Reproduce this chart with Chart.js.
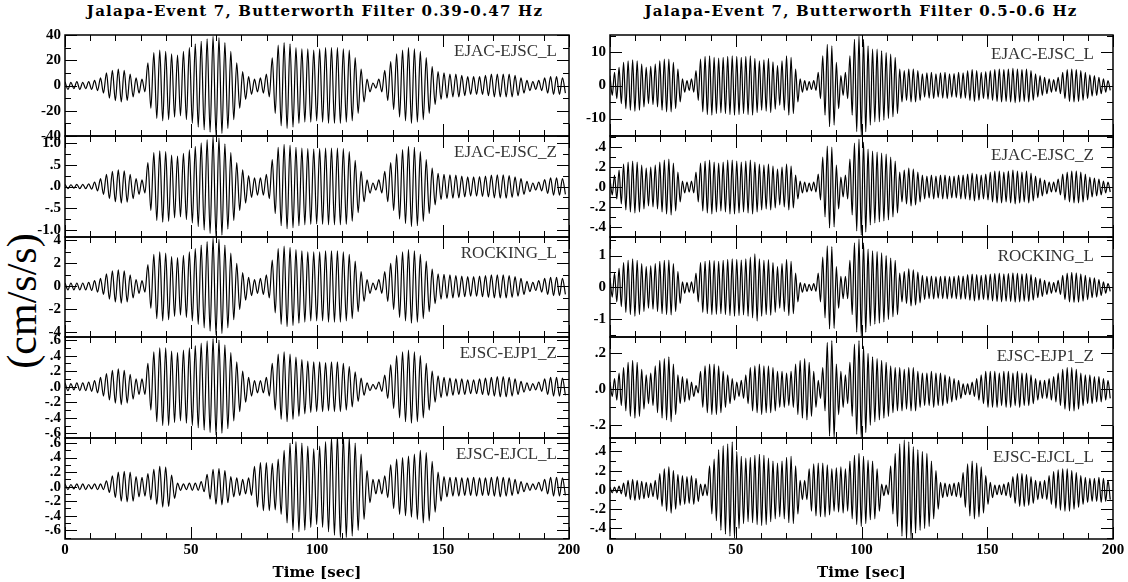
<!DOCTYPE html>
<html>
<head>
<meta charset="utf-8">
<title>Jalapa-Event 7</title>
<script src="https://cdn.jsdelivr.net/npm/chart.js@4.4.1/dist/chart.umd.min.js"></script>
<style>
  html, body { margin: 0; padding: 0; background: #fff; }
  #page { position: relative; width: 1128px; height: 582px; overflow: hidden; }
  #page canvas { position: absolute; }
  .title { position: absolute; top: 2px; font: bold 15px "DejaVu Serif"; letter-spacing: 1.2px; white-space: nowrap;
           transform: translateX(-50%); color: #000; }
  #ylabel { position: absolute; left: 22px; top: 301px; font: 42px "Liberation Serif"; white-space: nowrap;
            transform: translate(-50%, -50%) rotate(-90deg); color: #000; }
</style>
</head>
<body>
<div id="page">
  <div class="title" style="left:315px">Jalapa-Event 7, Butterworth Filter 0.39-0.47 Hz</div>
  <div class="title" style="left:861px">Jalapa-Event 7, Butterworth Filter 0.5-0.6 Hz</div>
  <div id="ylabel">(cm/s/s)</div>
</div>
<script>
const panelNames = ['EJAC-EJSC_L', 'EJAC-EJSC_Z', 'ROCKING_L', 'EJSC-EJP1_Z', 'EJSC-EJCL_L'];
const timeTicks = [0, 50, 100, 150, 200];

// half a period of the carrier in each band (sec)
const halfPeriodLow = 1.175;   // 0.39-0.47 Hz
const halfPeriodHigh = 0.9;    // 0.5-0.6 Hz

// peak amplitude of each cycle (0.39-0.47 Hz)
const lowEjacEjscL = [3, 2.5, 3, 2.5, 3, 4, 6, 10, 12, 13,
  12, 9, 6, 5, 18, 26, 28, 27, 25, 24,
  27, 30, 33, 35, 37, 39, 38, 34, 27, 18,
  11, 7, 5, 6, 9, 22, 32, 34, 33, 30,
  29, 29, 28, 29, 30, 30, 30, 29, 28, 22,
  13, 5, 2, 5, 12, 19, 25, 28, 30, 29,
  27, 22, 15, 11, 10, 9, 9, 8, 7, 7,
  7, 8, 9, 9, 9, 9, 8, 6, 4, 3,
  4, 6, 7, 7, 6];
const lowEjacEjscZ = [.05, .04, .05, .05, .06, .1, .18, .28, .35, .38,
  .36, .28, .18, .15, .55, .78, .82, .8, .72, .7,
  .76, .84, .92, 1.0, 1.08, 1.15, 1.12, .98, .78, .55,
  .38, .25, .2, .2, .28, .62, .9, .97, .95, .9,
  .88, .87, .86, .87, .88, .88, .88, .87, .8, .6,
  .35, .15, .08, .15, .35, .55, .75, .85, .92, .9,
  .8, .62, .42, .3, .28, .27, .26, .24, .22, .22,
  .23, .24, .26, .27, .27, .25, .22, .18, .12, .08,
  .1, .16, .2, .2, .18];
const lowRockingL = [.3, .3, .3, .3, .35, .5, .7, 1.1, 1.35, 1.45,
  1.35, 1.0, .6, .5, 1.9, 2.8, 3.0, 2.9, 2.6, 2.5,
  2.7, 3.0, 3.3, 3.6, 3.9, 4.2, 4.1, 3.6, 2.9, 2.0,
  1.2, .8, .6, .7, 1.0, 2.3, 3.3, 3.5, 3.4, 3.2,
  3.1, 3.0, 3.0, 3.0, 3.1, 3.1, 3.1, 3.0, 2.8, 2.2,
  1.3, .6, .3, .6, 1.3, 2.0, 2.7, 3.0, 3.2, 3.1,
  2.8, 2.2, 1.5, 1.1, 1.05, 1.0, .95, .9, .85, .85,
  .9, .95, 1.0, 1.0, 1.0, .95, .85, .7, .45, .35,
  .5, .7, .8, .8, .7];
const lowEjscEjp1Z = [.05, .04, .05, .05, .06, .08, .12, .17, .21, .23,
  .21, .16, .1, .1, .3, .45, .5, .5, .46, .44,
  .47, .5, .53, .56, .59, .62, .6, .54, .44, .32,
  .2, .12, .08, .08, .12, .3, .42, .45, .42, .38,
  .35, .33, .32, .32, .31, .32, .32, .3, .26, .19,
  .11, .05, .03, .06, .15, .28, .4, .45, .47, .45,
  .4, .3, .2, .14, .12, .11, .1, .1, .09, .09,
  .1, .11, .12, .13, .13, .12, .1, .07, .05, .04,
  .06, .1, .12, .12, .11];
const lowEjscEjclL = [.04, .03, .04, .04, .03, .04, .04, .08, .15, .2,
  .21, .2, .14, .13, .18, .24, .28, .27, .16, .05,
  .04, .05, .05, .07, .17, .24, .25, .22, .14, .12,
  .1, .12, .28, .33, .33, .32, .38, .5, .6, .62,
  .6, .56, .52, .56, .62, .67, .7, .7, .68, .6,
  .45, .22, .1, .1, .15, .3, .38, .4, .42, .45,
  .5, .47, .35, .2, .14, .13, .13, .12, .12, .13,
  .12, .12, .13, .14, .13, .12, .1, .07, .05, .04,
  .06, .1, .13, .13, .12];

// peak amplitude of each cycle (0.5-0.6 Hz)
const highEjacEjscL = [3, 4, 5.5, 7, 7.5, 7.8, 7.5, 6.5, 5.5, 5.8,
  6.5, 7.5, 8, 8, 7, 5, 2, 1.5, 2, 4.5,
  8, 8.8, 9, 8.5, 8.3, 8.5, 8.8, 9, 8.8, 8.5,
  8.8, 9, 8.2, 7.5, 7.8, 8.2, 7.2, 6, 7.5, 9,
  8.5, 5, 2, 1.5, 1.2, 1.5, 4, 9, 12.5, 12,
  7, 3, 4, 9, 14, 15, 14, 12, 11, 11,
  10.5, 10, 9.5, 8.5, 5, 4.5, 5, 5, 4.5, 3.5,
  3.8, 4, 3.5, 3.8, 4, 3.5, 3.6, 4, 3.8, 4.5,
  4.8, 4.5, 4, 4.2, 4.5, 4.8, 5, 4.8, 5, 5.2,
  5, 4.8, 5, 4.5, 3.5, 3, 2.5, 2, 1.8, 2.5,
  4, 4.8, 5, 4.8, 4.5, 4, 3.2, 3, 2.5, 2,
  1.5];
const highEjacEjscZ = [.08, .12, .17, .23, .25, .26, .25, .22, .19, .2,
  .22, .25, .27, .28, .24, .15, .06, .05, .06, .15,
  .24, .26, .27, .25, .24, .25, .27, .27, .26, .25,
  .26, .27, .25, .23, .22, .23, .21, .18, .2, .23,
  .21, .12, .06, .05, .04, .05, .13, .3, .41, .4,
  .22, .1, .12, .28, .44, .48, .45, .38, .36, .35,
  .34, .33, .3, .26, .15, .17, .19, .18, .15, .12,
  .11, .12, .11, .12, .12, .11, .11, .12, .12, .13,
  .14, .13, .12, .13, .15, .16, .16, .15, .16, .17,
  .16, .15, .16, .14, .11, .09, .07, .05, .05, .08,
  .13, .15, .16, .16, .15, .13, .1, .09, .08, .06,
  .05];
const highRockingL = [.3, .45, .6, .78, .85, .9, .85, .75, .65, .68,
  .75, .82, .85, .86, .75, .5, .18, .15, .18, .45,
  .78, .82, .85, .84, .82, .85, .88, .9, .88, .86,
  .9, .95, 1.05, .9, .85, .87, .78, .65, .75, .88,
  .82, .45, .15, .12, .1, .12, .45, .95, 1.3, 1.28,
  .65, .35, .35, .85, 1.4, 1.52, 1.4, 1.2, 1.15, 1.12,
  1.08, 1.0, .92, .85, .45, .5, .58, .55, .48, .38,
  .35, .36, .34, .35, .36, .34, .35, .37, .36, .4,
  .42, .4, .38, .4, .42, .44, .45, .43, .44, .46,
  .45, .43, .44, .4, .32, .28, .22, .18, .15, .22,
  .38, .45, .47, .46, .43, .38, .32, .3, .25, .18,
  .12];
const highEjscEjp1Z = [.04, .06, .09, .12, .15, .16, .15, .11, .08, .09,
  .13, .16, .17, .18, .14, .08, .07, .06, .04, .02,
  .1, .13, .14, .14, .13, .1, .08, .06, .04, .05,
  .08, .12, .13, .14, .13, .13, .12, .1, .1, .09,
  .1, .14, .16, .17, .15, .1, .05, .12, .26, .27,
  .14, .1, .08, .15, .25, .27, .24, .2, .18, .17,
  .16, .15, .13, .12, .12, .11, .12, .12, .1, .09,
  .09, .1, .09, .09, .08, .07, .06, .05, .03, .03,
  .04, .06, .08, .1, .1, .1, .09, .1, .1, .09,
  .1, .09, .09, .08, .06, .05, .05, .06, .07, .09,
  .11, .12, .12, .11, .09, .08, .08, .07, .07, .06,
  .05];
const highEjscEjclL = [.03, .03, .04, .07, .1, .11, .1, .09, .08, .07,
  .1, .17, .22, .24, .2, .16, .15, .14, .15, .12,
  .06, .06, .25, .32, .42, .46, .48, .5, .4, .35,
  .33, .34, .36, .37, .36, .33, .3, .28, .3, .34,
  .35, .25, .1, .1, .22, .27, .28, .28, .26, .22,
  .23, .24, .22, .3, .36, .38, .35, .31, .3, .22,
  .06, .05, .25, .38, .48, .52, .5, .45, .42, .4,
  .38, .3, .2, .08, .07, .06, .07, .08, .18, .27,
  .3, .28, .24, .15, .08, .05, .05, .06, .08, .14,
  .17, .17, .16, .14, .1, .09, .1, .15, .19, .21,
  .22, .22, .2, .18, .15, .13, .12, .12, .13, .12,
  .1];

// axis limits and tick steps per panel
const lowYMin = [-40, -1.16, -4.4, -0.66, -0.72];
const lowYMax = [40, 1.16, 4.3, 0.64, 0.67];
const lowMajor = [20, 0.5, 2, 0.2, 0.2];
const lowMinor = [10, 0.25, 1, 0.1, 0.1];
const lowDecimals = [0, 1, 0, 1, 1];

const highYMin = [-15.3, -0.5, -1.55, -0.27, -0.51];
const highYMax = [15.3, 0.51, 1.58, 0.29, 0.54];
const highMajor = [10, 0.2, 1, 0.2, 0.2];
const highMinor = [5, 0.1, 0.5, 0.1, 0.1];
const highDecimals = [0, 1, 0, 1, 1];

const xMinorStep = 10;

// ---- layout ----
const PAD = 14, AXIS_W = 62, X_AXIS_H = 43;
const panelEdges = [0, 1, 2, 3, 4, 5].map(i => Math.round(35 + i * 100.8));
const columns = [
  { left: 65, width: 504, half: halfPeriodLow, labelDx: 12, labelDy: 17,
    traces: [lowEjacEjscL, lowEjacEjscZ, lowRockingL, lowEjscEjp1Z, lowEjscEjclL],
    yMin: lowYMin, yMax: lowYMax, major: lowMajor, minor: lowMinor, dec: lowDecimals },
  { left: 610, width: 503, half: halfPeriodHigh, labelDx: 19, labelDy: 20,
    traces: [highEjacEjscL, highEjacEjscZ, highRockingL, highEjscEjp1Z, highEjscEjclL],
    yMin: highYMin, yMax: highYMax, major: highMajor, minor: highMinor, dec: highDecimals }
];

const tickFont = { family: '"Liberation Serif"', size: 15, weight: 'bold' };
const noGrid = { display: false, drawTicks: false, tickLength: 0 };

function traceFromPeaks(peaks, half) {
  const pts = [];
  peaks.forEach((a, k) => {
    pts.push({ x: 2 * k * half, y: a });
    pts.push({ x: (2 * k + 1) * half, y: -a });
  });
  return pts;
}

function formatTick(v, decimals) {
  const s = v.toFixed(decimals);
  return decimals ? s.replace(/^(-?)0\./, '$1.') : s;
}

// frame, inward ticks on all four sides, trace name
const panelFrame = {
  id: 'panelFrame',
  afterDatasetsDraw(chart, args, opts) {
    const { ctx, chartArea: a } = chart;
    const x = chart.scales.x, y = chart.scales.y;
    ctx.save();
    ctx.strokeStyle = '#000';
    ctx.lineWidth = 1;
    ctx.beginPath();
    for (let t = x.min; t <= x.max; t += xMinorStep) {
      const px = Math.round(x.getPixelForValue(t)) + 0.5;
      const len = t % 50 === 0 ? 12 : 6;
      ctx.moveTo(px, a.top); ctx.lineTo(px, a.top + len);
      ctx.moveTo(px, a.bottom); ctx.lineTo(px, a.bottom - len);
    }
    const n0 = Math.ceil(y.min / opts.minor - 1e-6), n1 = Math.floor(y.max / opts.minor + 1e-6);
    for (let n = n0; n <= n1; n++) {
      const v = n * opts.minor;
      const r = v / opts.major;
      const len = Math.abs(r - Math.round(r)) < 1e-6 ? 12 : 6;
      const py = Math.round(y.getPixelForValue(v)) + 0.5;
      ctx.moveTo(a.left, py); ctx.lineTo(a.left + len, py);
      ctx.moveTo(a.right, py); ctx.lineTo(a.right - len, py);
    }
    ctx.stroke();
    ctx.lineWidth = 1.5;
    ctx.strokeRect(a.left, a.top, a.width, a.height);
    ctx.font = '17px "Liberation Serif"';
    ctx.fillStyle = '#333';
    ctx.textAlign = 'right';
    ctx.textBaseline = 'middle';
    ctx.fillText(opts.name, a.right - opts.dx, a.top + opts.dy);
    ctx.restore();
  }
};

const page = document.getElementById('page');

columns.forEach(col => {
  col.traces.forEach((peaks, i) => {
    const isBottom = i === 4;
    const top = panelEdges[i], h = panelEdges[i + 1] - top;
    const cv = document.createElement('canvas');
    cv.width = AXIS_W + col.width + PAD;
    cv.height = PAD + h + (isBottom ? X_AXIS_H : PAD);
    cv.style.left = (col.left - AXIS_W) + 'px';
    cv.style.top = (top - PAD) + 'px';
    page.appendChild(cv);

    new Chart(cv, {
      type: 'line',
      data: {
        datasets: [{
          data: traceFromPeaks(peaks, col.half),
          borderColor: '#000',
          borderWidth: 1.2,
          pointRadius: 0,
          cubicInterpolationMode: 'monotone',
          fill: false
        }]
      },
      options: {
        responsive: false,
        animation: false,
        events: [],
        layout: { padding: { left: 0, right: PAD, top: PAD, bottom: isBottom ? 0 : PAD } },
        plugins: {
          legend: { display: false },
          tooltip: { enabled: false },
          panelFrame: { name: panelNames[i], major: col.major[i], minor: col.minor[i], dx: col.labelDx, dy: col.labelDy }
        },
        scales: {
          x: {
            type: 'linear',
            min: 0,
            max: 200,
            display: isBottom,
            grid: noGrid,
            border: { display: false },
            afterBuildTicks: s => { s.ticks = timeTicks.map(v => ({ value: v })); },
            afterFit: s => { s.height = isBottom ? X_AXIS_H : 0; },
            ticks: { font: tickFont, color: '#000', padding: 2, maxRotation: 0, autoSkip: false },
            title: { display: true, text: 'Time [sec]', color: '#000', padding: 0,
                     font: { family: '"DejaVu Serif"', size: 15, weight: 'bold' } }
          },
          y: {
            type: 'linear',
            min: col.yMin[i],
            max: col.yMax[i],
            grid: noGrid,
            border: { display: false },
            afterFit: s => { s.width = AXIS_W; },
            ticks: {
              stepSize: col.major[i],
              includeBounds: false,
              autoSkip: false,
              font: tickFont,
              color: '#000',
              padding: 4,
              callback: v => formatTick(v, col.dec[i])
            }
          }
        }
      },
      plugins: [panelFrame]
    });
  });
});
</script>
</body>
</html>
